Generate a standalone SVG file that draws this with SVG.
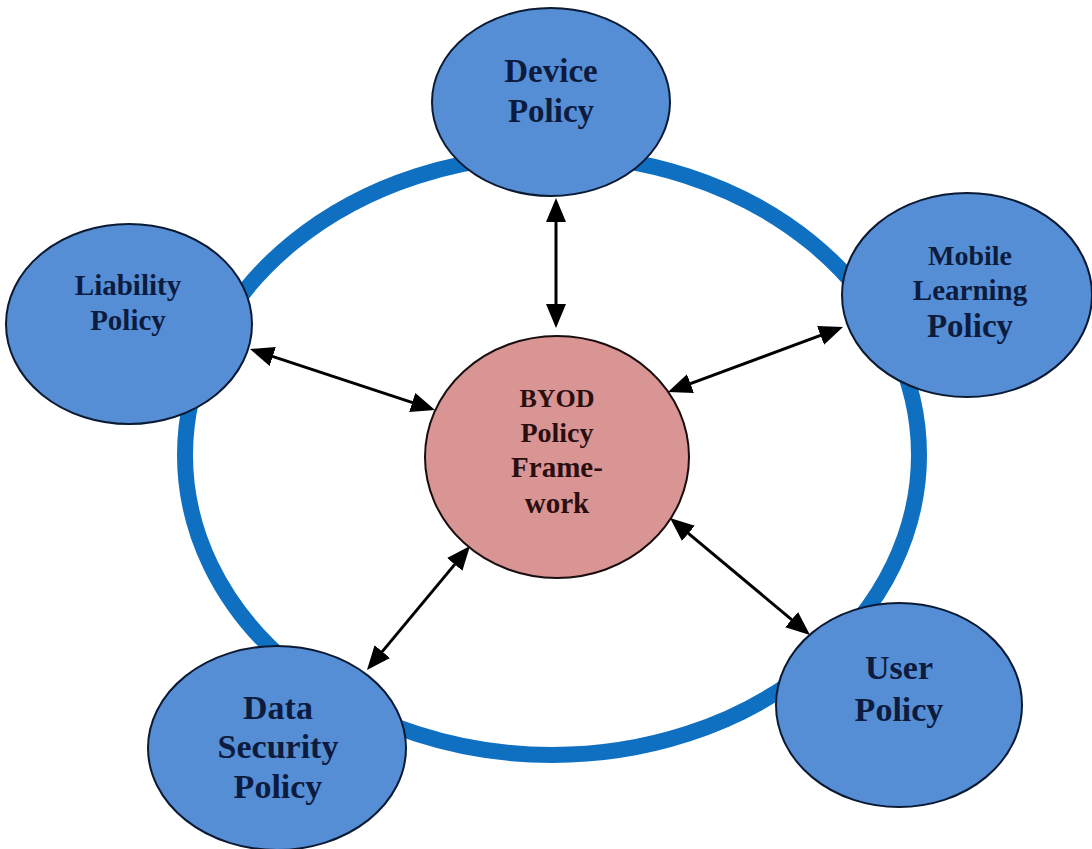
<svg xmlns="http://www.w3.org/2000/svg" width="1092" height="849" viewBox="0 0 1092 849">
  <style>
    .ring { fill: none; stroke: #0f70c2; stroke-width: 16; }
    .node { fill: #558ed5; stroke: #0b1a33; stroke-width: 2; }
    .core { fill: #d99594; stroke: #1a0d0d; stroke-width: 2; }
    .lbl { font-family: "Liberation Serif", "Times New Roman", serif; font-weight: bold; text-anchor: middle; fill: #0d1b3e; }
    .lbl-core { font-family: "Liberation Serif", "Times New Roman", serif; font-weight: bold; text-anchor: middle; fill: #2b0f10; }
    .link { stroke: #000; stroke-width: 3; fill: none; marker-start: url(#head); marker-end: url(#head); }
  </style>
  <defs>
    <marker id="head" viewBox="0 0 24 20" refX="18" refY="10" markerWidth="24" markerHeight="20" markerUnits="userSpaceOnUse" orient="auto-start-reverse">
      <path d="M0,0 L24,10 L0,20 z" fill="#000"/>
    </marker>
  </defs>

  <rect width="1092" height="849" fill="#fff"/>

  <!-- outer ring joining the policy areas -->
  <ellipse class="ring" cx="552" cy="455" rx="367" ry="300"/>

  <!-- two-way links between the framework and each policy -->
  <g id="connectors">
    <line class="link" x1="556" y1="204" x2="556" y2="322"/>
    <line class="link" x1="255.7" y1="350.9" x2="429.3" y2="408.1"/>
    <line class="link" x1="837.4" y1="329.1" x2="673.6" y2="389.9"/>
    <line class="link" x1="466.2" y1="550.6" x2="370.8" y2="665.4"/>
    <line class="link" x1="674.6" y1="521.8" x2="805.4" y2="631.2"/>
  </g>

  <g id="device-policy">
    <ellipse class="node" cx="551" cy="102" rx="119" ry="94"/>
    <text class="lbl" x="551" y="82" font-size="33">Device</text>
    <text class="lbl" x="551" y="122" font-size="33">Policy</text>
  </g>

  <g id="mobile-learning-policy">
    <ellipse class="node" cx="967" cy="295" rx="125" ry="102"/>
    <text class="lbl" x="970" y="265" font-size="28">Mobile</text>
    <text class="lbl" x="970" y="300" font-size="29">Learning</text>
    <text class="lbl" x="970" y="337" font-size="33">Policy</text>
  </g>

  <g id="liability-policy">
    <ellipse class="node" cx="129" cy="324" rx="123" ry="100"/>
    <text class="lbl" x="128" y="295" font-size="29">Liability</text>
    <text class="lbl" x="128" y="330" font-size="29">Policy</text>
  </g>

  <g id="byod-framework">
    <ellipse class="core" cx="557" cy="457" rx="132" ry="121"/>
    <text class="lbl-core" x="557" y="407" font-size="26">BYOD</text>
    <text class="lbl-core" x="557" y="442" font-size="28">Policy</text>
    <text class="lbl-core" x="557" y="477" font-size="29">Frame-</text>
    <text class="lbl-core" x="557" y="513" font-size="29">work</text>
  </g>

  <g id="data-security-policy">
    <ellipse class="node" cx="277" cy="748" rx="129" ry="102"/>
    <text class="lbl" x="278" y="719" font-size="34">Data</text>
    <text class="lbl" x="278" y="758" font-size="34">Security</text>
    <text class="lbl" x="278" y="798" font-size="34">Policy</text>
  </g>

  <g id="user-policy">
    <ellipse class="node" cx="899" cy="705" rx="123" ry="102"/>
    <text class="lbl" x="899" y="679" font-size="34">User</text>
    <text class="lbl" x="899" y="721" font-size="34">Policy</text>
  </g>
</svg>
